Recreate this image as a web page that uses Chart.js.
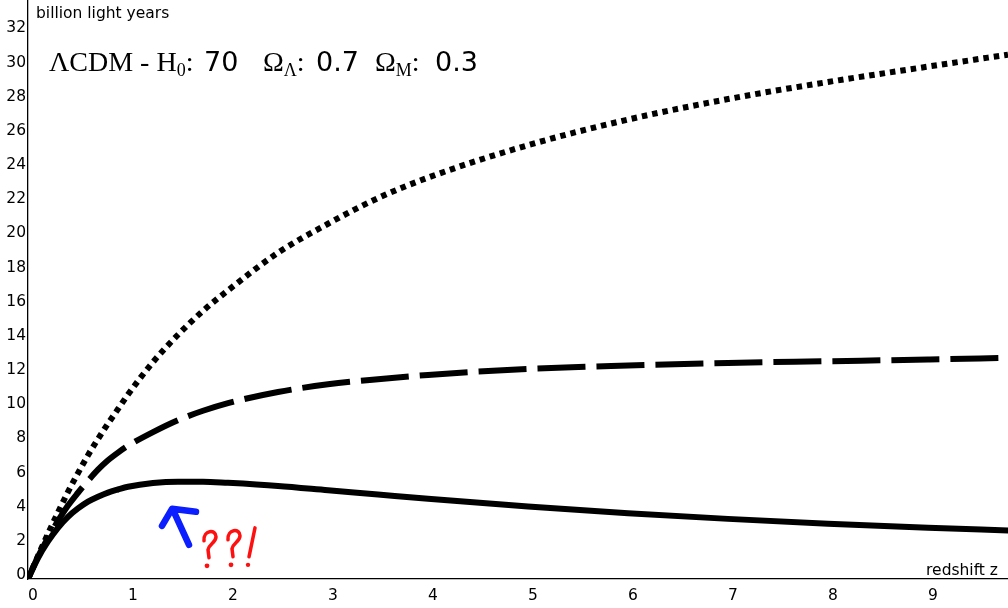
<!DOCTYPE html>
<html>
<head>
<meta charset="utf-8">
<script src="https://cdn.jsdelivr.net/npm/chart.js@4"></script>
<style>
  html, body { margin: 0; padding: 0; background: #fff; }
  #wrap { width: 1008px; height: 608px; }
</style>
</head>
<body>
<div id="wrap"><canvas id="chart" width="1008" height="608"></canvas></div>
<script>
const redshift = [0, 0.1, 0.2, 0.3, 0.4, 0.5, 0.6, 0.7, 0.8, 0.9, 1.0, 1.25, 1.5, 1.75, 2, 2.5, 3, 3.5, 4, 5, 6, 7, 8, 9, 9.8];

// billion light years
const comovingDistance = [0, 1.35, 2.65, 3.9, 5.1, 6.2, 7.25, 8.2, 9.1, 9.95, 10.8, 12.7, 14.3, 15.7, 16.9, 19.1, 20.8, 22.3, 23.5, 25.4, 26.9, 28.1, 29.1, 30.0, 30.7];
const lightTravelDistance = [0, 1.3, 2.4, 3.4, 4.3, 5.05, 5.75, 6.4, 6.95, 7.4, 7.8, 8.6, 9.3, 9.85, 10.3, 10.95, 11.4, 11.7, 11.95, 12.3, 12.5, 12.65, 12.75, 12.85, 12.95];
const angularDistance = [0, 1.23, 2.2, 3.0, 3.64, 4.13, 4.53, 4.82, 5.06, 5.24, 5.4, 5.62, 5.7, 5.7, 5.63, 5.45, 5.2, 4.95, 4.7, 4.24, 3.85, 3.52, 3.24, 3.0, 2.84];

const xTicks = [0, 1, 2, 3, 4, 5, 6, 7, 8, 9];
const yTicks = [0, 2, 4, 6, 8, 10, 12, 14, 16, 18, 20, 22, 24, 26, 28, 30, 32];

const FONT = 'DejaVu Sans';
const SERIF = 'Liberation Serif';

function points(values) {
  return redshift.map((z, i) => ({ x: z, y: values[i] }));
}

// title, axis names and the hand drawn scribbles
const overlayPlugin = {
  id: 'overlay',
  afterDraw(chart) {
    const ctx = chart.ctx;
    const area = chart.chartArea;
    const xs = chart.scales.x;
    const ys = chart.scales.y;
    ctx.save();
    ctx.fillStyle = '#000';
    ctx.textBaseline = 'alphabetic';

    ctx.font = `15.5px "${FONT}"`;
    ctx.textAlign = 'left';
    ctx.fillText('billion light years', area.left + 8, area.top + 18);
    ctx.textAlign = 'right';
    ctx.fillText('redshift z', area.right - 10, area.bottom - 4);
    ctx.textAlign = 'left';

    // ΛCDM - H0: 70   ΩΛ: 0.7  ΩM: 0.3
    const base = 71;
    const big = `28px "${SERIF}"`;
    const sub = `18px "${SERIF}"`;
    const num = `27px "${FONT}"`;
    function run(parts, x) {
      parts.forEach(p => {
        ctx.font = p[1];
        ctx.fillText(p[0], x, base + (p[2] || 0));
        x += ctx.measureText(p[0]).width;
      });
      return x;
    }
    run([['\u039BCDM - H', big], ['0', sub, 5], [':', big]], 49);
    run([['70', num]], 204);
    run([['\u03A9', big], ['\u039B', sub, 5], [':', big]], 263);
    run([['0.7', num]], 316);
    run([['\u03A9', big], ['M', sub, 5], [':', big]], 375);
    run([['0.3', num]], 435);

    // blue arrow, anchored near the bottom of the solid curve's hump
    const ax = xs.getPixelForValue(1.6);
    const ay = ys.getPixelForValue(2.0);
    ctx.strokeStyle = '#0a1eff';
    ctx.lineWidth = 6.5;
    ctx.lineCap = 'round';
    ctx.lineJoin = 'round';
    ctx.beginPath();
    ctx.moveTo(ax + 1, ay + 0);
    ctx.lineTo(ax - 15, ay - 35);
    ctx.moveTo(ax - 26, ay - 19);
    ctx.lineTo(ax - 16, ay - 36);
    ctx.lineTo(ax + 8, ay - 33);
    ctx.stroke();

    // red ??!
    ctx.strokeStyle = '#ff1010';
    ctx.fillStyle = '#ff1010';
    ctx.lineWidth = 3.5;
    function question(qx, qy) {
      ctx.beginPath();
      ctx.moveTo(qx, qy + 10);
      ctx.bezierCurveTo(qx - 1, qy - 1, qx + 12, qy - 2, qx + 12, qy + 6);
      ctx.bezierCurveTo(qx + 12, qy + 12, qx + 5, qy + 13, qx + 4, qy + 19);
      ctx.lineTo(qx + 5, qy + 27);
      ctx.stroke();
      ctx.beginPath();
      ctx.arc(qx + 3, qy + 35, 2.4, 0, Math.PI * 2);
      ctx.fill();
    }
    question(ax + 16, ay - 14);
    question(ax + 40, ay - 15);
    ctx.beginPath();
    ctx.moveTo(ax + 67, ay - 17);
    ctx.lineTo(ax + 61, ay + 12);
    ctx.stroke();
    ctx.beginPath();
    ctx.arc(ax + 60, ay + 20, 2.2, 0, Math.PI * 2);
    ctx.fill();

    ctx.restore();
  }
};

function lineSet(values, dash, cap) {
  return {
    data: points(values),
    borderColor: '#000',
    borderWidth: 6,
    borderDash: dash,
    borderCapStyle: cap,
    pointRadius: 0,
    fill: false,
    cubicInterpolationMode: 'monotone'
  };
}

const ctx = document.getElementById('chart').getContext('2d');
new Chart(ctx, {
  type: 'line',
  data: {
    datasets: [
      lineSet(angularDistance, [], 'round'),
      lineSet(lightTravelDistance, [48, 11], 'butt'),
      lineSet(comovingDistance, [5.5, 5], 'butt')
    ]
  },
  options: {
    responsive: false,
    animation: false,
    devicePixelRatio: 1,
    layout: { padding: 0 },
    plugins: { legend: { display: false }, tooltip: { enabled: false } },
    scales: {
      x: {
        type: 'linear',
        min: 0,
        max: 9.8,
        afterBuildTicks: s => { s.ticks = xTicks.map(v => ({ value: v })); },
        afterFit: s => { s.height = 29; s.paddingLeft = 0; s.paddingRight = 0; },
        grid: { display: false, drawTicks: false },
        border: { display: true, color: '#000', width: 1.3 },
        ticks: {
          color: '#000',
          font: { family: FONT, size: 15.5 },
          padding: 8,
          labelOffset: 5,
          maxRotation: 0
        }
      },
      y: {
        type: 'linear',
        min: 0,
        max: 33.9,
        afterBuildTicks: s => { s.ticks = yTicks.map(v => ({ value: v })); },
        afterFit: s => { s.width = 28; s.paddingTop = 0; s.paddingBottom = 0; },
        grid: { display: false, drawTicks: false },
        border: { display: true, color: '#000', width: 1.3 },
        ticks: {
          color: '#000',
          font: { family: FONT, size: 15.5 },
          padding: 2,
          labelOffset: -4
        }
      }
    }
  },
  plugins: [overlayPlugin]
});
</script>
</body>
</html>
